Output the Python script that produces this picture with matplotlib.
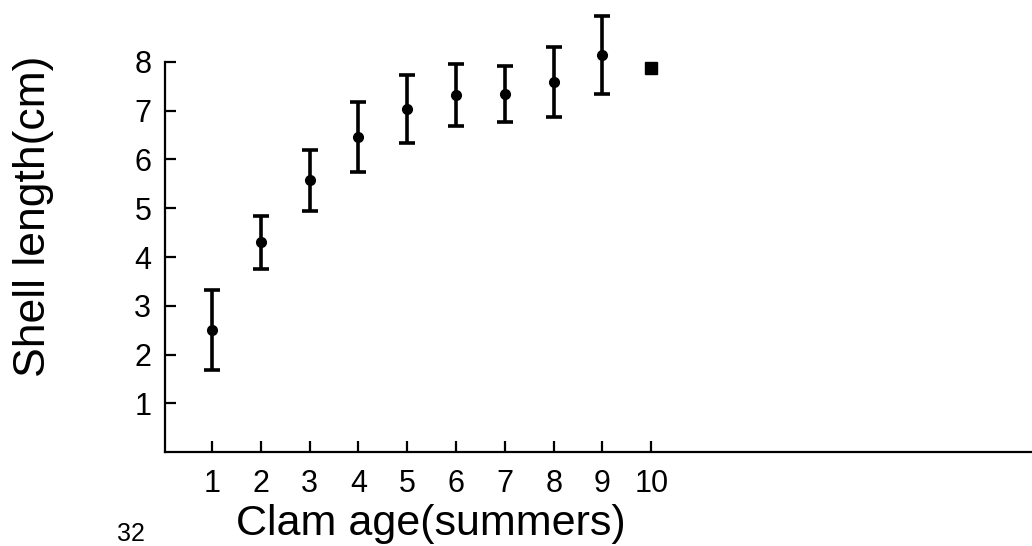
import numpy as np
import matplotlib.pyplot as plt

plt.rcParams['font.family'] = ['Liberation Sans', 'DejaVu Sans']

# clam age (summers) vs mean shell length with error bars
age = [1, 2, 3, 4, 5, 6, 7, 8, 9]
length = [2.50, 4.30, 5.57, 6.46, 7.04, 7.32, 7.34, 7.59, 8.14]
err = [0.82, 0.54, 0.63, 0.71, 0.70, 0.63, 0.58, 0.71, 0.80]
age_last = [10]
length_last = [7.88]
yticks = [1, 2, 3, 4, 5, 6, 7, 8]
xticks = [1, 2, 3, 4, 5, 6, 7, 8, 9, 10]

fig = plt.figure(figsize=(10.32, 5.46), dpi=100)
ax = fig.add_axes([0.160, 0.172, 0.840, 0.828])

ax.errorbar(age, length, yerr=err, fmt='o', color='black', ms=7,
            elinewidth=2.6, capsize=6, capthick=2.6)
ax.plot(age_last, length_last, 's', color='black', ms=8)

ax.set_xlim(0.04, 17.8)
ax.set_ylim(0, 9.27)
ax.set_xticks(xticks)
ax.set_yticks(yticks)
ax.spines['top'].set_visible(False)
ax.spines['right'].set_visible(False)
ax.spines['left'].set_bounds(0, 8)
ax.spines['left'].set_linewidth(1.6)
ax.spines['bottom'].set_linewidth(1.6)
ax.tick_params(direction='in', length=8, width=1.6, labelsize=22)
ax.tick_params(axis='y', pad=10)
ax.tick_params(axis='x', pad=12)

ax.set_xlabel('Clam age(summers)', fontsize=31)
ax.xaxis.set_label_coords(0.306, -0.115)
ax.set_ylabel('Shell length(cm)', fontsize=32)
ax.yaxis.set_label_coords(-0.128, 0.522)

fig.text(0.113, 0.0, '32', fontsize=18, va='bottom')

fig.savefig('out.png', dpi=100)
